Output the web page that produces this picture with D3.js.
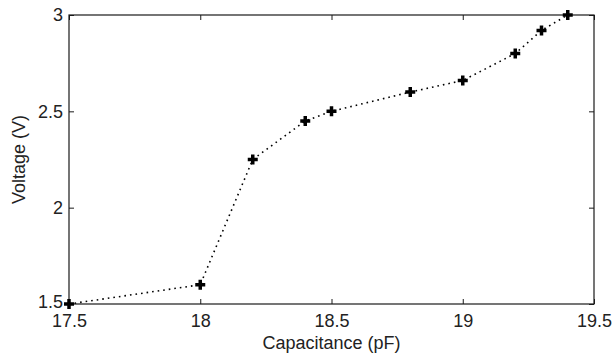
<!DOCTYPE html>
<html>
<head>
<meta charset="utf-8">
<script src="https://cdn.jsdelivr.net/npm/d3@7"></script>
<style>
html,body{margin:0;padding:0;background:#fff;}
svg{display:block;}
text{font-family:"Liberation Sans",Arial,sans-serif;}
</style>
</head>
<body>
<svg id="chart" width="615" height="358"></svg>
<script>
const capacitance = [17.5, 18.0, 18.2, 18.4, 18.5, 18.8, 19.0, 19.2, 19.3, 19.4];
const voltage     = [1.5, 1.6, 2.25, 2.45, 2.5, 2.6, 2.66, 2.8, 2.92, 3.0];
const xTicks = [17.5, 18, 18.5, 19, 19.5];
const yTicks = [1.5, 2, 2.5, 3];
const xLabel = "Capacitance (pF)";
const yLabel = "Voltage (V)";

const svg = d3.select("#chart");
const L = 69, R = 594, T = 15, B = 304;
const x = d3.scaleLinear().domain([17.5, 19.5]).range([L, R]);
const y = d3.scaleLinear().domain([1.5, 3]).range([B, T]);
const fmt = d => String(d);
const tickLen = 5;
const axisColor = "#1a1a1a";

function style(g){
  g.select(".domain").remove();
  g.selectAll(".tick line").attr("stroke", axisColor).attr("stroke-width", 1);
  g.selectAll(".tick text").attr("fill", "#222").style("font-size", "18px")
    .style("font-family", "'Liberation Sans', Arial, sans-serif");
}

// bottom axis (ticks inward)
const gb = svg.append("g").attr("transform", `translate(0,${B})`)
  .call(d3.axisBottom(x).tickValues(xTicks).tickFormat(fmt).tickSizeInner(-tickLen).tickSizeOuter(0).tickPadding(tickLen + 4));
style(gb);
gb.selectAll(".tick text").attr("dy", "0.75em");
// top axis ticks
const gt = svg.append("g").attr("transform", `translate(0,${T})`)
  .call(d3.axisTop(x).tickValues(xTicks).tickFormat("").tickSizeInner(-tickLen).tickSizeOuter(0));
style(gt);
// left axis
const gl = svg.append("g").attr("transform", `translate(${L},0)`)
  .call(d3.axisLeft(y).tickValues(yTicks).tickFormat(fmt).tickSizeInner(-tickLen).tickSizeOuter(0).tickPadding(tickLen + 1));
style(gl);
gl.selectAll(".tick text").filter(d => d === 1.5).attr("dy", "0.2em");
// right axis ticks
const gr = svg.append("g").attr("transform", `translate(${R},0)`)
  .call(d3.axisRight(y).tickValues(yTicks).tickFormat("").tickSizeInner(-tickLen).tickSizeOuter(0));
style(gr);

// box
svg.append("rect").attr("x", L).attr("y", T).attr("width", R - L).attr("height", B - T)
  .attr("fill", "none").attr("stroke", axisColor).attr("stroke-width", 1.2);

// dotted line
const pts = capacitance.map((c, i) => [c, voltage[i]]);
svg.append("path")
  .datum(pts)
  .attr("d", d3.line().x(d => x(d[0])).y(d => y(d[1])))
  .attr("fill", "none").attr("stroke", "#000").attr("stroke-width", 1.6)
  .attr("stroke-dasharray", "1.6,4");

// plus markers
svg.append("g").selectAll("path").data(pts).join("path")
  .attr("transform", d => `translate(${x(d[0])},${y(d[1])})`)
  .attr("d", "M-5,0H5M0,-5V5")
  .attr("stroke", "#000").attr("stroke-width", 3.5);

// axis labels
svg.append("text").attr("x", (L + R) / 2).attr("y", 349).attr("text-anchor", "middle")
  .attr("fill", "#222").style("font-size", "18px").text(xLabel);
svg.append("text").attr("transform", `translate(25,${(T + B) / 2}) rotate(-90)`)
  .attr("text-anchor", "middle").attr("fill", "#222").style("font-size", "18px").text(yLabel);
</script>
</body>
</html>
